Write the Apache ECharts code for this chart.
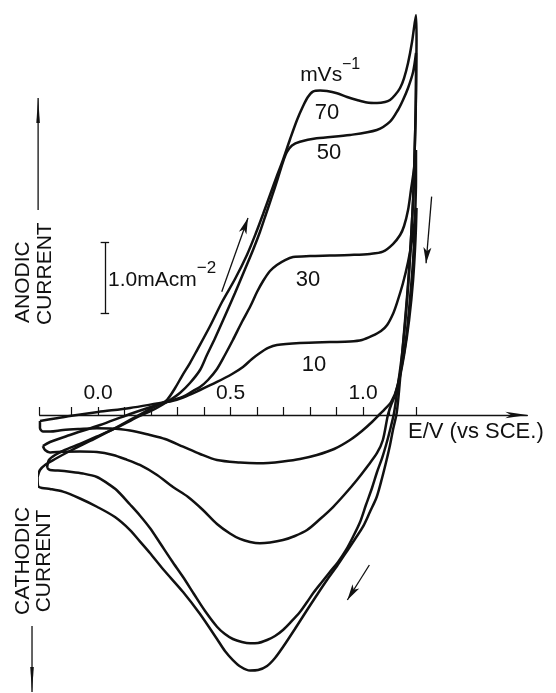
<!DOCTYPE html>
<html><head><meta charset="utf-8">
<script src="https://cdn.jsdelivr.net/npm/echarts@6/dist/echarts.min.js"></script>
<style>html,body{margin:0;padding:0;background:#fff}#c{width:556px;height:693px}</style>
</head><body><div id="c"></div>
<script>
// E / V (vs SCE), current density / mA cm-2 ; each loop: forward scan then reverse scan
const scanRates = ['10', '30', '50', '70'];

const loop10 = [
 [-0.219,-0.085],[-0.162,-0.049],[-0.106,-0.014],[0,0.042],[0.121,0.099],[0.223,0.162],[0.279,0.197],
 [0.321,0.246],[0.385,0.352],[0.449,0.465],[0.506,0.577],[0.547,0.676],[0.581,0.789],[0.611,0.873],
 [0.642,0.944],[0.675,0.986],[0.762,1.014],[0.875,1.028],[0.951,1.035],[0.996,1.056],[1.034,1.113],
 [1.068,1.183],[1.091,1.268],[1.113,1.423],[1.128,1.577],[1.151,1.859],[1.170,2.155],[1.185,2.465],
 [1.196,2.746],[1.202,2.915],
 [1.198,2.465],[1.189,1.901],[1.174,1.338],[1.155,0.845],[1.132,0.423],[1.106,0.183],[1.079,0.070],
 [1.064,0.014],[1.034,-0.099],[0.996,-0.225],[0.951,-0.352],[0.891,-0.479],[0.826,-0.563],[0.762,-0.620],
 [0.698,-0.655],[0.642,-0.676],[0.600,-0.680],[0.536,-0.669],[0.449,-0.634],[0.385,-0.549],[0.321,-0.446],
 [0.253,-0.338],[0.196,-0.282],[0.121,-0.218],[0.045,-0.190],[-0.004,-0.187],[-0.068,-0.197],
 [-0.132,-0.211],[-0.181,-0.232],[-0.208,-0.232],[-0.219,-0.183],[-0.219,-0.085]
];
const loop30 = [
 [-0.208,-0.437],[-0.181,-0.380],[-0.106,-0.282],[0.008,-0.141],[0.121,0.014],[0.234,0.155],[0.321,0.258],
 [0.358,0.338],[0.385,0.394],[0.415,0.493],[0.449,0.648],[0.479,0.845],[0.509,1.056],[0.543,1.310],
 [0.574,1.525],[0.600,1.732],[0.623,1.887],[0.649,2.028],[0.675,2.113],[0.706,2.183],[0.736,2.225],
 [0.800,2.239],[0.875,2.246],[0.951,2.254],[1.026,2.268],[1.075,2.300],[1.113,2.408],[1.140,2.535],
 [1.155,2.662],[1.170,2.887],[1.181,3.169],[1.192,3.451],[1.200,3.732],
 [1.200,3.310],[1.196,2.746],[1.189,2.183],[1.177,1.620],[1.162,1.056],[1.143,0.634],[1.121,0.282],
 [1.106,0.141],[1.094,0],[1.075,-0.352],[1.053,-0.535],[1.015,-0.732],[0.977,-0.915],[0.932,-1.113],
 [0.887,-1.296],[0.838,-1.465],[0.789,-1.620],[0.743,-1.704],[0.698,-1.761],[0.649,-1.796],[0.611,-1.807],
 [0.574,-1.789],[0.536,-1.746],[0.498,-1.669],[0.449,-1.535],[0.396,-1.338],[0.340,-1.155],[0.283,-1.014],
 [0.223,-0.845],[0.158,-0.704],[0.102,-0.620],[0.057,-0.563],[-0.004,-0.521],[-0.068,-0.514],
 [-0.132,-0.517],[-0.181,-0.528],[-0.200,-0.493],[-0.208,-0.437]
];
const loop50 = [
 [-0.192,-0.746],[-0.185,-0.634],[-0.162,-0.563],[-0.125,-0.493],[-0.068,-0.408],[0.008,-0.282],
 [0.083,-0.155],[0.158,-0.014],[0.215,0.085],[0.272,0.211],[0.309,0.310],[0.347,0.451],[0.385,0.634],
 [0.411,0.845],[0.442,1.085],[0.479,1.394],[0.517,1.718],[0.555,2.056],[0.585,2.324],[0.611,2.577],
 [0.634,2.831],[0.657,3.085],[0.679,3.338],[0.698,3.563],[0.713,3.704],[0.732,3.796],[0.762,3.849],
 [0.825,3.897],[0.951,3.944],[1.052,4.014],[1.102,4.131],[1.132,4.296],[1.151,4.437],[1.170,4.606],
 [1.189,4.831],[1.200,5.099],
 [1.200,4.718],[1.198,4.155],[1.194,3.592],[1.189,3.028],[1.181,2.465],[1.172,1.901],[1.160,1.338],
 [1.147,0.845],[1.132,0.423],[1.117,0.028],[1.102,-0.211],[1.087,-0.423],[1.072,-0.606],[1.053,-0.803],
 [1.034,-1.028],[1.011,-1.268],[0.989,-1.507],[0.962,-1.718],[0.936,-1.901],[0.906,-2.070],[0.875,-2.211],
 [0.845,-2.352],[0.815,-2.493],[0.789,-2.634],[0.762,-2.775],[0.728,-2.915],[0.698,-3.028],[0.668,-3.113],
 [0.638,-3.169],[0.604,-3.211],[0.574,-3.215],[0.543,-3.197],[0.509,-3.155],[0.479,-3.085],[0.449,-2.982],
 [0.404,-2.761],[0.362,-2.521],[0.321,-2.282],[0.279,-2.056],[0.234,-1.803],[0.196,-1.592],[0.158,-1.415],
 [0.121,-1.261],[0.072,-1.063],[0.034,-0.958],[-0.004,-0.873],[-0.057,-0.824],[-0.106,-0.799],
 [-0.151,-0.782],[-0.181,-0.775],[-0.192,-0.746]
];
const loop70 = [
 [-0.228,-0.873],[-0.219,-0.775],[-0.200,-0.704],[-0.162,-0.620],[-0.106,-0.507],[-0.030,-0.366],
 [0.045,-0.225],[0.121,-0.070],[0.189,0.070],[0.234,0.155],[0.260,0.211],[0.291,0.380],[0.317,0.549],
 [0.347,0.732],[0.374,0.915],[0.423,1.254],[0.468,1.592],[0.517,1.915],[0.562,2.254],[0.596,2.563],
 [0.623,2.831],[0.649,3.099],[0.675,3.366],[0.698,3.592],[0.725,3.887],[0.751,4.155],[0.774,4.352],
 [0.792,4.479],[0.811,4.556],[0.838,4.570],[0.864,4.563],[0.902,4.531],[0.940,4.479],[0.977,4.437],
 [1.015,4.401],[1.053,4.394],[1.083,4.408],[1.102,4.437],[1.121,4.507],[1.140,4.606],[1.155,4.746],
 [1.170,4.958],[1.185,5.254],[1.200,5.634],
 [1.202,5.282],[1.201,4.859],[1.199,4.296],[1.195,3.732],[1.191,3.169],[1.183,2.606],[1.174,2.042],
 [1.162,1.479],[1.149,0.915],[1.138,0.423],[1.127,0.028],[1.113,-0.211],[1.102,-0.423],[1.089,-0.634],
 [1.072,-0.887],[1.052,-1.151],[1.026,-1.366],[1.000,-1.573],[0.970,-1.746],[0.940,-1.915],[0.902,-2.127],
 [0.864,-2.324],[0.826,-2.535],[0.789,-2.746],[0.743,-3.014],[0.698,-3.268],[0.668,-3.423],[0.638,-3.535],
 [0.604,-3.592],[0.574,-3.599],[0.540,-3.549],[0.509,-3.451],[0.479,-3.324],[0.449,-3.155],[0.385,-2.803],
 [0.321,-2.493],[0.245,-2.169],[0.196,-1.944],[0.158,-1.780],[0.121,-1.620],[0.064,-1.437],
 [-0.004,-1.292],[-0.068,-1.176],[-0.132,-1.080],[-0.181,-1.042],[-0.211,-1.028],[-0.226,-1.000],
 [-0.228,-0.873]
];
const loops = [loop10, loop30, loop50, loop70];

const xTickValues = [-0.22,-0.1,0,0.1,0.2,0.3,0.4,0.5,0.6,0.7,0.8,0.9,1.0,1.1,1.2];
const xLabelValues = [0, 0.5, 1.0];

// annotations (data coordinates)
const curveLabels = [[0.815,0.704,'10'],[0.792,1.901,'30'],[0.872,3.690,'50'],[0.864,4.254,'70']];
const scanArrows = [[0.467,1.737,0.566,2.775],[1.259,3.075,1.238,2.137],[1.024,-2.113,0.941,-2.606]];
const scaleBar = [0.026, 1.437, 2.437]; // E, I from, I to (1.0 mA cm-2)

const FONT = '"Liberation Sans", Arial, sans-serif';
const chart = echarts.init(document.getElementById('c'), null, {renderer:'canvas'});

const X0 = -0.22, X1 = 1.62, Y0 = -3.9, Y1 = 5.8;
const series = loops.map((d, i) => ({
  type:'line', name: scanRates[i] + ' mV s-1', data: d, showSymbol:false, smooth:0.3,
  clip:false, lineStyle:{color:'#111', width:2.5}, z:3
}));
series.push({
  type:'line', data:[], showSymbol:false,
  markLine:{silent:true, symbol:['none','arrow'], symbolSize:[6,16], animation:false,
    lineStyle:{color:'#111', width:1.3, type:'solid'}, label:{show:false},
    data: scanArrows.map(a => [{coord:[a[0],a[1]]},{coord:[a[2],a[3]]}])}
});
series.push({
  type:'line', data:[], showSymbol:false,
  markLine:{silent:true, symbol:['none','none'], animation:false,
    lineStyle:{color:'#111', width:1.3, type:'solid'}, label:{show:false},
    data:[
      [{coord:[scaleBar[0],scaleBar[1]]},{coord:[scaleBar[0],scaleBar[2]]}],
      [{coord:[scaleBar[0]-0.016,scaleBar[1]]},{coord:[scaleBar[0]+0.016,scaleBar[1]]}],
      [{coord:[scaleBar[0]-0.016,scaleBar[2]]},{coord:[scaleBar[0]+0.016,scaleBar[2]]}]
    ]}
});

chart.setOption({
  animation:false,
  backgroundColor:'#fff',
  grid:{left:98-0.22*265, right:556-(98+1.62*265), top:415-5.8*71, bottom:693-(415+3.9*71),
        containLabel:false, outerBoundsMode:'none'},
  xAxis:{type:'value', min:X0, max:X1,
    axisLine:{show:true, onZero:true, symbol:['none','arrow'], symbolSize:[5,22],
      lineStyle:{color:'#111', width:1.4}},
    axisTick:{show:true, inside:true, length:8, customValues:xTickValues, lineStyle:{color:'#111', width:1.2}},
    axisLabel:{show:false},
    splitLine:{show:false}},
  yAxis:{type:'value', min:Y0, max:Y1, axisLine:{show:false}, axisTick:{show:false},
    axisLabel:{show:false}, splitLine:{show:false}},
  series
});

function px(e, i){ return chart.convertToPixel({gridIndex:0}, [e, i]); }
function txt(e, i, s, size, align, vAlign, rot, dy){
  const p = px(e, i);
  return {type:'text', x:p[0], y:p[1] + (dy||0), rotation:rot||0, z:10,
    style:{text:s, fill:'#111', font:`${size}px ${FONT}`, align:align||'center', verticalAlign:vAlign||'middle'}};
}
const g = [];
// tick labels above the E axis (on I = 0)
xLabelValues.forEach(v => g.push(txt(v, 0, v.toFixed(1), 21, 'center', 'bottom', 0, -11)));
curveLabels.forEach(c => g.push(txt(c[0], c[1], c[2], 22)));
g.push(txt(0.842, 4.789, 'mVs', 21));
g.push(txt(0.955, 4.930, '\u22121', 16));
g.push(txt(0.038, 1.901, '1.0mAcm', 21, 'left'));
g.push(txt(0.373, 2.070, '\u22122', 17, 'left'));
g.push(txt(1.170, -0.239, 'E/V (vs SCE.)', 22, 'left'));
// axis direction labels
g.push(txt(-0.283, 1.296, 'ANODIC', 21, 'left', 'middle', Math.PI/2));
g.push(txt(-0.200, 1.268, 'CURRENT', 21, 'left', 'middle', Math.PI/2));
g.push(txt(-0.283, -2.056, 'CATHODIC', 21, 'center', 'middle', Math.PI/2));
g.push(txt(-0.204, -2.056, 'CURRENT', 21, 'center', 'middle', Math.PI/2));
// anodic / cathodic arrows
function arrow(e, iFrom, iTo, iHead){
  const a = px(e, iFrom), b = px(e, iTo), h = px(e, iHead);
  g.push({type:'line', z:10, shape:{x1:a[0], y1:a[1], x2:b[0], y2:b[1]}, style:{stroke:'#111', lineWidth:1.3}});
  g.push({type:'polygon', z:10, shape:{points:[[b[0],b[1]],[h[0]-1.8,h[1]],[h[0]+1.8,h[1]]]}, style:{fill:'#111'}});
}
arrow(-0.226, 2.887, 4.465, 4.113);
arrow(-0.249, -2.972, -3.901, -3.549);
chart.setOption({graphic:g});
</script></body></html>
